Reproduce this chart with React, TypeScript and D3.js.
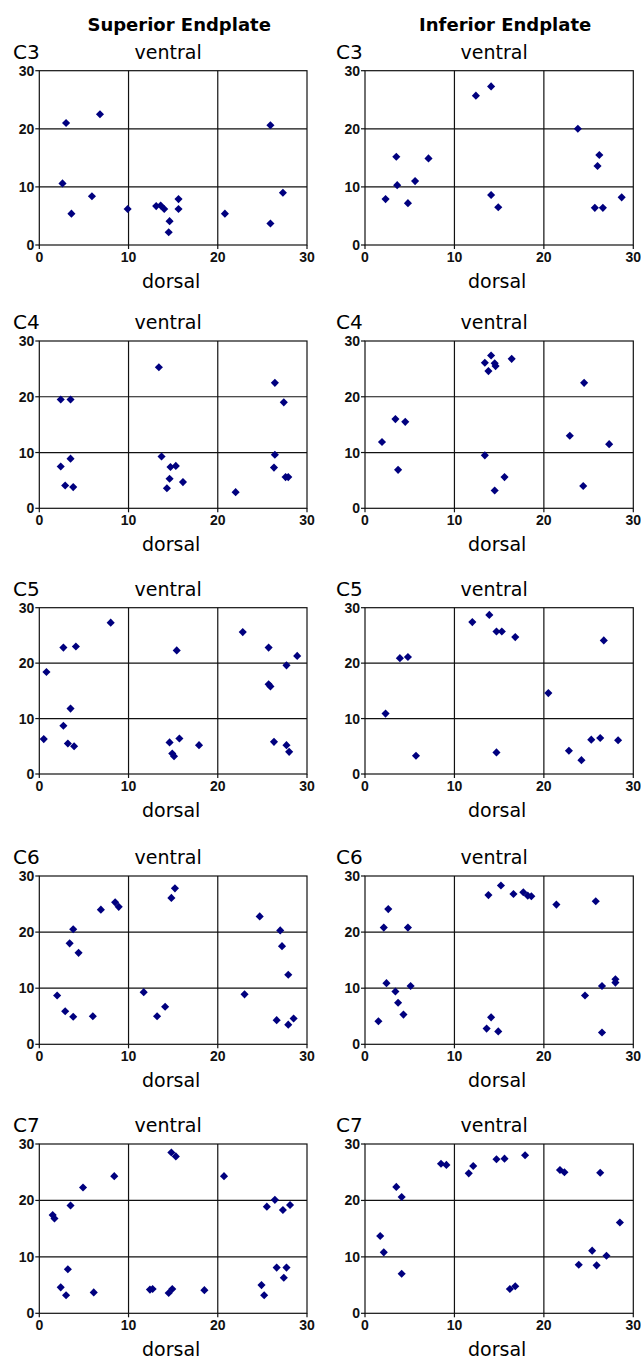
import React, { useEffect, useRef } from 'react';
import * as d3 from 'd3';

// [dorsal position, ventral position] for each point
const c3Superior = [
  [3.0, 21.0], [6.8, 22.5], [25.9, 20.6], [2.6, 10.6], [27.3, 9.0], [5.9, 8.4],
  [3.6, 5.4], [9.9, 6.2], [13.1, 6.7], [13.6, 6.8], [14.0, 6.2], [15.6, 7.9],
  [15.6, 6.2], [14.6, 4.1], [14.5, 2.2], [20.8, 5.4], [25.9, 3.7]
];
const c3Inferior = [
  [12.4, 25.7], [14.1, 27.3], [23.8, 20.0], [3.5, 15.2], [7.1, 14.9], [3.6, 10.3],
  [5.6, 11.0], [2.3, 7.9], [4.8, 7.2], [14.1, 8.6], [14.9, 6.5], [26.2, 15.5],
  [26.0, 13.6], [25.7, 6.4], [26.6, 6.4], [28.7, 8.2]
];
const c4Superior = [
  [2.4, 19.5], [3.5, 19.5], [13.4, 25.3], [26.4, 22.5], [27.4, 19.0], [3.5, 8.9],
  [2.4, 7.5], [2.9, 4.1], [3.8, 3.8], [13.7, 9.3], [14.7, 7.4], [15.3, 7.6],
  [14.6, 5.3], [14.3, 3.6], [16.1, 4.7], [22.0, 2.9], [26.4, 9.6], [26.3, 7.3],
  [27.6, 5.6], [27.9, 5.6]
];
const c4Inferior = [
  [14.1, 27.4], [13.4, 26.1], [14.5, 26.0], [14.6, 25.5], [13.8, 24.6], [16.4, 26.8],
  [24.5, 22.5], [3.4, 16.0], [4.5, 15.5], [1.9, 11.9], [3.7, 6.9], [13.4, 9.5],
  [15.6, 5.6], [14.5, 3.2], [22.9, 13.0], [27.3, 11.5], [24.4, 4.0]
];
const c5Superior = [
  [0.8, 18.4], [0.5, 6.3], [2.7, 22.8], [4.1, 23.0], [8.0, 27.3], [3.5, 11.8],
  [2.7, 8.7], [3.2, 5.5], [3.9, 5.0], [15.4, 22.3], [14.6, 5.7], [15.7, 6.4],
  [14.9, 3.7], [15.1, 3.2], [17.9, 5.2], [22.8, 25.6], [25.7, 22.8], [27.7, 19.6],
  [28.9, 21.3], [25.7, 16.2], [25.9, 15.8], [26.3, 5.8], [27.7, 5.2], [28.0, 4.0]
];
const c5Inferior = [
  [12.0, 27.4], [13.9, 28.7], [14.7, 25.7], [15.3, 25.7], [16.8, 24.7], [26.7, 24.1],
  [3.9, 20.9], [4.8, 21.1], [2.3, 10.9], [5.7, 3.3], [14.7, 3.9], [20.5, 14.6],
  [22.8, 4.2], [24.2, 2.5], [25.3, 6.2], [26.3, 6.5], [28.3, 6.1]
];
const c6Superior = [
  [2.0, 8.7], [2.9, 5.9], [3.8, 4.9], [6.0, 5.0], [3.4, 18.0], [3.8, 20.5],
  [4.4, 16.3], [6.9, 24.0], [8.5, 25.3], [8.9, 24.5], [14.8, 26.1], [15.2, 27.8],
  [11.7, 9.3], [13.2, 5.0], [14.1, 6.7], [23.0, 8.9], [24.7, 22.8], [27.0, 20.3],
  [27.2, 17.5], [27.9, 12.4], [26.6, 4.3], [27.9, 3.5], [28.5, 4.6]
];
const c6Inferior = [
  [1.5, 4.1], [2.1, 20.8], [2.6, 24.1], [4.8, 20.8], [2.4, 10.9], [3.4, 9.4],
  [3.7, 7.4], [4.3, 5.3], [5.1, 10.4], [13.8, 26.6], [15.2, 28.3], [16.6, 26.8],
  [17.7, 27.1], [18.2, 26.5], [18.6, 26.4], [21.4, 24.9], [25.8, 25.5], [14.1, 4.8],
  [13.6, 2.8], [14.9, 2.3], [24.6, 8.7], [26.5, 10.4], [28.0, 11.6], [28.0, 11.0],
  [26.5, 2.1]
];
const c7Superior = [
  [1.5, 17.4], [1.7, 16.8], [3.5, 19.1], [4.9, 22.3], [8.4, 24.3], [3.2, 7.8],
  [2.4, 4.6], [3.0, 3.2], [6.1, 3.7], [14.8, 28.5], [15.3, 27.8], [12.4, 4.2],
  [12.7, 4.3], [14.5, 3.6], [14.9, 4.3], [18.5, 4.1], [20.7, 24.3], [25.5, 18.9],
  [26.4, 20.1], [27.3, 18.3], [28.1, 19.2], [26.6, 8.1], [27.7, 8.1], [27.4, 6.3],
  [24.9, 5.0], [25.2, 3.2]
];
const c7Inferior = [
  [1.7, 13.7], [2.1, 10.8], [4.1, 7.0], [3.5, 22.4], [4.1, 20.6], [8.5, 26.5],
  [9.1, 26.3], [11.6, 24.8], [12.1, 26.1], [14.7, 27.3], [15.6, 27.4], [17.9, 28.0],
  [16.2, 4.3], [16.8, 4.8], [21.8, 25.4], [22.3, 25.0], [26.3, 24.9], [28.5, 16.1],
  [23.9, 8.6], [25.4, 11.1], [25.9, 8.5], [27.0, 10.2]
];

const levels = ['C3', 'C4', 'C5', 'C6', 'C7'];
const columnTitles = ['Superior Endplate', 'Inferior Endplate'];
const ticks = [0, 10, 20, 30];
const superior = [c3Superior, c4Superior, c5Superior, c6Superior, c7Superior];
const inferior = [c3Inferior, c4Inferior, c5Inferior, c6Inferior, c7Inferior];

const W = 641;
const H = 1360;
const rowTop = [70.7, 341, 607.7, 876, 1144];
const rowBottom = [245, 508.3, 774, 1044.3, 1313.3];
const colLeft = [39.3, 365];
const colRight = [307, 633.3];
const font = '"DejaVu Sans", sans-serif';
const tickFont = '"Liberation Sans", Arial, sans-serif';
const ink = '#111';

export default function App() {
  const ref = useRef<SVGSVGElement>(null);

  useEffect(() => {
    const svg = d3.select(ref.current);
    svg.selectAll('*').remove();

    svg.append('rect').attr('width', W).attr('height', H).attr('fill', 'white');

    // column headers
    svg.append('g')
      .selectAll('text')
      .data(columnTitles)
      .join('text')
      .attr('x', (d, i) => (colLeft[i] + colRight[i]) / 2 + 6)
      .attr('y', 31)
      .attr('text-anchor', 'middle')
      .style('font', `bold 18px ${font}`)
      .text(d => d);

    const panels = levels.flatMap((level, r) =>
      [superior[r], inferior[r]].map((points, c) => ({ level, r, c, points }))
    );

    panels.forEach(p => {
      const x = d3.scaleLinear().domain([0, 30]).range([colLeft[p.c], colRight[p.c]]);
      const y = d3.scaleLinear().domain([0, 30]).range([rowBottom[p.r], rowTop[p.r]]);
      const g = svg.append('g');
      const cx = (colLeft[p.c] + colRight[p.c]) / 2;

      const lines = g.append('g').attr('stroke', ink).attr('stroke-width', 1.2);

      // grid lines + frame
      lines.append('g')
        .selectAll('line')
        .data([10, 20])
        .join('line')
        .attr('x1', d => x(d)).attr('x2', d => x(d))
        .attr('y1', y(0)).attr('y2', y(30));
      lines.append('g')
        .selectAll('line')
        .data([10, 20])
        .join('line')
        .attr('x1', x(0)).attr('x2', x(30))
        .attr('y1', d => y(d)).attr('y2', d => y(d));
      lines.append('rect')
        .attr('x', x(0)).attr('y', y(30))
        .attr('width', x(30) - x(0)).attr('height', y(0) - y(30))
        .attr('fill', 'none');

      // tick marks
      lines.append('g')
        .selectAll('line')
        .data(ticks)
        .join('line')
        .attr('x1', x(0) - 4).attr('x2', x(0))
        .attr('y1', d => y(d)).attr('y2', d => y(d));
      lines.append('g')
        .selectAll('line')
        .data(ticks)
        .join('line')
        .attr('x1', d => x(d)).attr('x2', d => x(d))
        .attr('y1', y(0)).attr('y2', y(0) + 4);

      // tick labels
      g.append('g')
        .selectAll('text')
        .data(ticks)
        .join('text')
        .attr('x', x(0) - 5)
        .attr('y', d => y(d))
        .attr('dy', '0.36em')
        .attr('text-anchor', 'end')
        .attr('fill', ink)
        .style('font', `bold 14px ${tickFont}`)
        .text(d => d);
      g.append('g')
        .selectAll('text')
        .data(ticks)
        .join('text')
        .attr('x', d => x(d))
        .attr('y', y(0) + 17)
        .attr('text-anchor', 'middle')
        .attr('fill', ink)
        .style('font', `bold 14px ${tickFont}`)
        .text(d => d);

      // labels
      g.append('text')
        .attr('x', p.c === 0 ? 13 : 336)
        .attr('y', y(30) - 12)
        .style('font', `20px ${font}`)
        .text(p.level);
      g.append('text')
        .attr('x', cx - 5)
        .attr('y', y(30) - 12)
        .attr('text-anchor', 'middle')
        .style('font', `19px ${font}`)
        .text('ventral');
      g.append('text')
        .attr('x', cx - 2)
        .attr('y', y(0) + 43)
        .attr('text-anchor', 'middle')
        .style('font', `19px ${font}`)
        .text('dorsal');

      // markers
      g.append('g')
        .selectAll('path')
        .data(p.points)
        .join('path')
        .attr('transform', d => `translate(${x(d[0])},${y(d[1])})`)
        .attr('d', d3.symbol().type(d3.symbolDiamond2).size(42)())
        .attr('fill', '#00007f');
    });
  }, []);

  return (
    <svg
      ref={ref}
      width={W}
      height={H}
      style={{ position: 'absolute', left: 0, top: 0, display: 'block' }}
    />
  );
}
